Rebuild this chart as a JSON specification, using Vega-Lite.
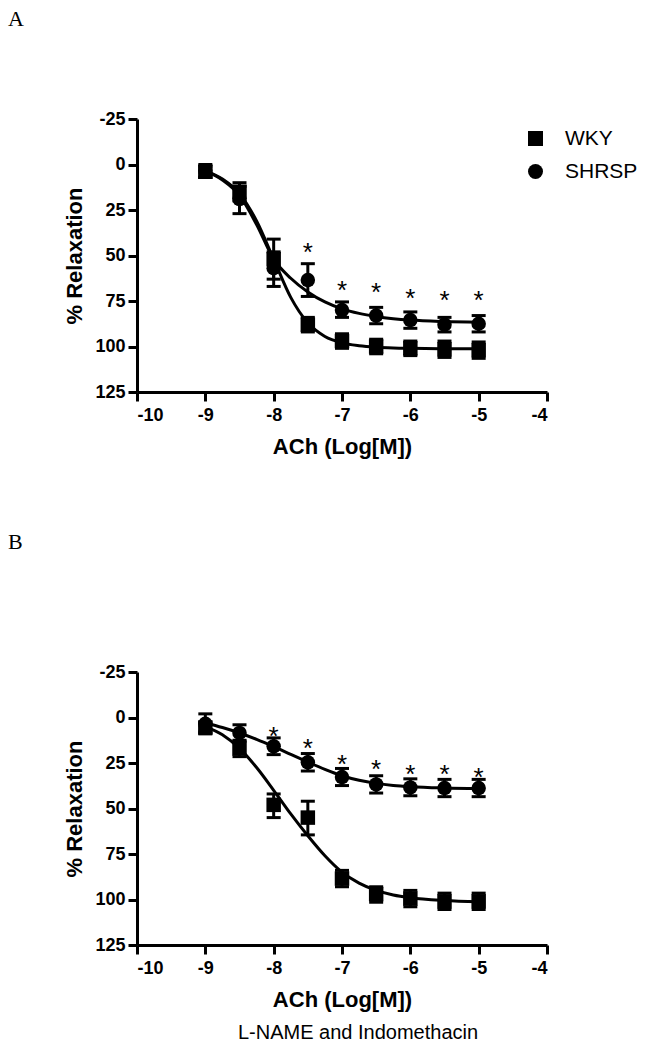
{
  "$schema": "https://vega.github.io/schema/vega-lite/v6.json",
  "background": "white",
  "padding": {"left": 8, "top": 8, "right": 5, "bottom": 3},
  "config": {
    "view": {"stroke": null},
    "font": "Liberation Sans",
    "axis": {
      "grid": false,
      "labelFontSize": 18,
      "labelFontWeight": "bold",
      "labelColor": "black",
      "labelFont": "Liberation Sans",
      "labelExpr": "'' + datum.value",
      "titleFontSize": 22,
      "titleFontWeight": "bold",
      "titleColor": "black",
      "titleFont": "Liberation Sans",
      "tickSize": 9,
      "tickWidth": 3,
      "tickColor": "black",
      "domainWidth": 3,
      "domainColor": "black",
      "labelPadding": 3
    },
    "axisX": {"labelPadding": 5, "titlePadding": 12},
    "legend": {
      "title": null,
      "orient": "none",
      "legendX": 388,
      "legendY": 9,
      "labelFontSize": 21,
      "labelFont": "Liberation Sans",
      "labelColor": "black",
      "symbolSize": 225,
      "labelOffset": 19,
      "rowPadding": 11,
      "padding": 0,
      "symbolFillColor": "black",
      "symbolStrokeColor": "black"
    }
  },
  "datasets": {
    "pts": [
      {"panel": "A", "group": "WKY", "x": -9, "y": 4, "lo": 1, "hi": 7},
      {"panel": "A", "group": "WKY", "x": -8.5, "y": 15, "lo": 10, "hi": 20},
      {"panel": "A", "group": "WKY", "x": -8, "y": 52, "lo": 41, "hi": 63},
      {"panel": "A", "group": "WKY", "x": -7.5, "y": 88, "lo": 84, "hi": 92},
      {"panel": "A", "group": "WKY", "x": -7, "y": 97, "lo": 93, "hi": 101},
      {"panel": "A", "group": "WKY", "x": -6.5, "y": 100, "lo": 96, "hi": 104},
      {"panel": "A", "group": "WKY", "x": -6, "y": 101, "lo": 97, "hi": 105},
      {"panel": "A", "group": "WKY", "x": -5.5, "y": 101.5, "lo": 97, "hi": 106},
      {"panel": "A", "group": "WKY", "x": -5, "y": 102, "lo": 97.5, "hi": 106.5},
      {"panel": "A", "group": "SHRSP", "x": -9, "y": 3.5, "lo": 0, "hi": 7},
      {"panel": "A", "group": "SHRSP", "x": -8.5, "y": 19, "lo": 12, "hi": 27},
      {"panel": "A", "group": "SHRSP", "x": -8, "y": 57, "lo": 48, "hi": 67},
      {"panel": "A", "group": "SHRSP", "x": -7.5, "y": 63.5, "lo": 54.5, "hi": 72.5},
      {"panel": "A", "group": "SHRSP", "x": -7, "y": 80, "lo": 75.5, "hi": 84},
      {"panel": "A", "group": "SHRSP", "x": -6.5, "y": 83, "lo": 78.5, "hi": 87.5},
      {"panel": "A", "group": "SHRSP", "x": -6, "y": 85.5, "lo": 81, "hi": 90},
      {"panel": "A", "group": "SHRSP", "x": -5.5, "y": 88, "lo": 84, "hi": 92},
      {"panel": "A", "group": "SHRSP", "x": -5, "y": 87.5, "lo": 83, "hi": 92},
      {"panel": "B", "group": "WKY", "x": -9, "y": 5.5, "lo": 3, "hi": 8},
      {"panel": "B", "group": "WKY", "x": -8.5, "y": 17, "lo": 12.5, "hi": 21.5},
      {"panel": "B", "group": "WKY", "x": -8, "y": 48, "lo": 42, "hi": 55},
      {"panel": "B", "group": "WKY", "x": -7.5, "y": 55, "lo": 46, "hi": 64.5},
      {"panel": "B", "group": "WKY", "x": -7, "y": 88.5, "lo": 84, "hi": 93},
      {"panel": "B", "group": "WKY", "x": -6.5, "y": 97, "lo": 93, "hi": 101.5},
      {"panel": "B", "group": "WKY", "x": -6, "y": 99.5, "lo": 95, "hi": 104},
      {"panel": "B", "group": "WKY", "x": -5.5, "y": 101, "lo": 96.5, "hi": 105.5},
      {"panel": "B", "group": "WKY", "x": -5, "y": 101, "lo": 96.5, "hi": 105.5},
      {"panel": "B", "group": "SHRSP", "x": -9, "y": 3.5, "lo": -2, "hi": 9},
      {"panel": "B", "group": "SHRSP", "x": -8.5, "y": 8.5, "lo": 4, "hi": 13},
      {"panel": "B", "group": "SHRSP", "x": -8, "y": 15.8, "lo": 11.2, "hi": 20.4},
      {"panel": "B", "group": "SHRSP", "x": -7.5, "y": 24.6, "lo": 19.8, "hi": 29.4},
      {"panel": "B", "group": "SHRSP", "x": -7, "y": 32.7, "lo": 28, "hi": 37.4},
      {"panel": "B", "group": "SHRSP", "x": -6.5, "y": 36.8, "lo": 32, "hi": 41.5},
      {"panel": "B", "group": "SHRSP", "x": -6, "y": 38.4, "lo": 33.7, "hi": 43},
      {"panel": "B", "group": "SHRSP", "x": -5.5, "y": 38.8, "lo": 34, "hi": 43.5},
      {"panel": "B", "group": "SHRSP", "x": -5, "y": 38.8, "lo": 34, "hi": 43.5}
    ],
    "curves": [
      {"panel": "A", "group": "WKY", "x": -9, "y": 3.5},
      {"panel": "A", "group": "WKY", "x": -8.75, "y": 8},
      {"panel": "A", "group": "WKY", "x": -8.5, "y": 16},
      {"panel": "A", "group": "WKY", "x": -8.25, "y": 31},
      {"panel": "A", "group": "WKY", "x": -8, "y": 52},
      {"panel": "A", "group": "WKY", "x": -7.75, "y": 73},
      {"panel": "A", "group": "WKY", "x": -7.5, "y": 87},
      {"panel": "A", "group": "WKY", "x": -7.25, "y": 94.5},
      {"panel": "A", "group": "WKY", "x": -7, "y": 98},
      {"panel": "A", "group": "WKY", "x": -6.75, "y": 99.6},
      {"panel": "A", "group": "WKY", "x": -6.5, "y": 100.4},
      {"panel": "A", "group": "WKY", "x": -6.25, "y": 100.8},
      {"panel": "A", "group": "WKY", "x": -6, "y": 101},
      {"panel": "A", "group": "WKY", "x": -5.5, "y": 101.2},
      {"panel": "A", "group": "WKY", "x": -5, "y": 101.3},
      {"panel": "A", "group": "SHRSP", "x": -9, "y": 3.5},
      {"panel": "A", "group": "SHRSP", "x": -8.75, "y": 8.5},
      {"panel": "A", "group": "SHRSP", "x": -8.5, "y": 17},
      {"panel": "A", "group": "SHRSP", "x": -8.25, "y": 33},
      {"panel": "A", "group": "SHRSP", "x": -8, "y": 52},
      {"panel": "A", "group": "SHRSP", "x": -7.75, "y": 62.5},
      {"panel": "A", "group": "SHRSP", "x": -7.5, "y": 70},
      {"panel": "A", "group": "SHRSP", "x": -7.25, "y": 75.5},
      {"panel": "A", "group": "SHRSP", "x": -7, "y": 79.3},
      {"panel": "A", "group": "SHRSP", "x": -6.75, "y": 81.8},
      {"panel": "A", "group": "SHRSP", "x": -6.5, "y": 83.5},
      {"panel": "A", "group": "SHRSP", "x": -6.25, "y": 84.7},
      {"panel": "A", "group": "SHRSP", "x": -6, "y": 85.5},
      {"panel": "A", "group": "SHRSP", "x": -5.5, "y": 86.3},
      {"panel": "A", "group": "SHRSP", "x": -5, "y": 86.7},
      {"panel": "B", "group": "WKY", "x": -9, "y": 5},
      {"panel": "B", "group": "WKY", "x": -8.75, "y": 9.5},
      {"panel": "B", "group": "WKY", "x": -8.5, "y": 17},
      {"panel": "B", "group": "WKY", "x": -8.25, "y": 27.5},
      {"panel": "B", "group": "WKY", "x": -8, "y": 40},
      {"panel": "B", "group": "WKY", "x": -7.75, "y": 53},
      {"panel": "B", "group": "WKY", "x": -7.5, "y": 65},
      {"panel": "B", "group": "WKY", "x": -7.25, "y": 76},
      {"panel": "B", "group": "WKY", "x": -7, "y": 85},
      {"panel": "B", "group": "WKY", "x": -6.75, "y": 91},
      {"panel": "B", "group": "WKY", "x": -6.5, "y": 95},
      {"panel": "B", "group": "WKY", "x": -6.25, "y": 97.5},
      {"panel": "B", "group": "WKY", "x": -6, "y": 99},
      {"panel": "B", "group": "WKY", "x": -5.5, "y": 100.5},
      {"panel": "B", "group": "WKY", "x": -5, "y": 101.2},
      {"panel": "B", "group": "SHRSP", "x": -9, "y": 3},
      {"panel": "B", "group": "SHRSP", "x": -8.75, "y": 5.5},
      {"panel": "B", "group": "SHRSP", "x": -8.5, "y": 8.5},
      {"panel": "B", "group": "SHRSP", "x": -8.25, "y": 12},
      {"panel": "B", "group": "SHRSP", "x": -8, "y": 16},
      {"panel": "B", "group": "SHRSP", "x": -7.75, "y": 20.3},
      {"panel": "B", "group": "SHRSP", "x": -7.5, "y": 24.5},
      {"panel": "B", "group": "SHRSP", "x": -7.25, "y": 28.5},
      {"panel": "B", "group": "SHRSP", "x": -7, "y": 32},
      {"panel": "B", "group": "SHRSP", "x": -6.75, "y": 34.5},
      {"panel": "B", "group": "SHRSP", "x": -6.5, "y": 36.2},
      {"panel": "B", "group": "SHRSP", "x": -6.25, "y": 37.3},
      {"panel": "B", "group": "SHRSP", "x": -6, "y": 38},
      {"panel": "B", "group": "SHRSP", "x": -5.5, "y": 38.7},
      {"panel": "B", "group": "SHRSP", "x": -5, "y": 39}
    ],
    "stars": [
      {"panel": "A", "x": -7.5, "y": 45},
      {"panel": "A", "x": -7, "y": 65.5},
      {"panel": "A", "x": -6.5, "y": 67},
      {"panel": "A", "x": -6, "y": 70},
      {"panel": "A", "x": -5.5, "y": 71},
      {"panel": "A", "x": -5, "y": 71},
      {"panel": "B", "x": -8, "y": 6.6},
      {"panel": "B", "x": -7.5, "y": 13.4},
      {"panel": "B", "x": -7, "y": 22},
      {"panel": "B", "x": -6.5, "y": 25},
      {"panel": "B", "x": -6, "y": 27.7},
      {"panel": "B", "x": -5.5, "y": 27.7},
      {"panel": "B", "x": -5, "y": 29.6}
    ]
  },
  "title": {
    "text": "L-NAME and Indomethacin",
    "orient": "bottom",
    "anchor": "middle",
    "font": "Liberation Sans",
    "fontSize": 20,
    "fontWeight": "normal",
    "color": "black",
    "offset": 13,
    "dx": 35
  },
  "spacing": 74,
  "vconcat": [
    {
      "width": 410,
      "height": 273,
      "title": {"text": "A", "anchor": "start", "frame": "group", "dx": -129, "offset": 79, "font": "Liberation Serif", "fontSize": 22, "fontWeight": "normal", "color": "black"},
      "encoding": {
        "x": {"field": "x", "type": "quantitative", "scale": {"domain": [-10, -4], "nice": false, "zero": false}, "axis": {"values": [-10, -9, -8, -7, -6, -5, -4], "title": "ACh (Log[M])"}},
        "y": {"field": "y", "type": "quantitative", "scale": {"domain": [-25, 125], "nice": false, "zero": false, "reverse": true}, "axis": {"values": [-25, 0, 25, 50, 75, 100, 125], "title": "% Relaxation", "titlePadding": 8}}
      },
      "layer": [
        {
          "data": {"name": "curves"},
          "transform": [{"filter": "datum.panel === 'A'"}],
          "mark": {"type": "line", "interpolate": "monotone", "strokeWidth": 3, "color": "black"},
          "encoding": {"detail": {"field": "group"}}
        },
        {
          "data": {"name": "pts"},
          "transform": [{"filter": "datum.panel === 'A'"}],
          "mark": {"type": "rule", "strokeWidth": 3, "color": "black", "opacity": 1},
          "encoding": {"y": {"field": "lo", "type": "quantitative"}, "y2": {"field": "hi"}}
        },
        {
          "data": {"name": "pts"},
          "transform": [{"filter": "datum.panel === 'A'"}],
          "mark": {"type": "tick", "orient": "horizontal", "size": 14, "thickness": 3, "color": "black", "opacity": 1},
          "encoding": {"y": {"field": "lo", "type": "quantitative"}}
        },
        {
          "data": {"name": "pts"},
          "transform": [{"filter": "datum.panel === 'A'"}],
          "mark": {"type": "tick", "orient": "horizontal", "size": 14, "thickness": 3, "color": "black", "opacity": 1},
          "encoding": {"y": {"field": "hi", "type": "quantitative"}}
        },
        {
          "data": {"name": "pts"},
          "transform": [{"filter": "datum.panel === 'A'"}],
          "mark": {"type": "point", "filled": true, "size": 210, "opacity": 1, "color": "black"},
          "encoding": {"shape": {"field": "group", "type": "nominal", "scale": {"domain": ["WKY", "SHRSP"], "range": ["square", "circle"]}}}
        },
        {
          "data": {"name": "stars"},
          "transform": [{"filter": "datum.panel === 'A'"}],
          "mark": {"type": "text", "text": "*", "fontSize": 26, "font": "Liberation Sans", "baseline": "alphabetic", "dy": 15, "color": "black"},
          "encoding": {}
        }
      ]
    },
    {
      "width": 410,
      "height": 273,
      "title": {"text": "B", "anchor": "start", "frame": "group", "dx": -129, "offset": 109, "font": "Liberation Serif", "fontSize": 22, "fontWeight": "normal", "color": "black"},
      "encoding": {
        "x": {"field": "x", "type": "quantitative", "scale": {"domain": [-10, -4], "nice": false, "zero": false}, "axis": {"values": [-10, -9, -8, -7, -6, -5, -4], "title": "ACh (Log[M])"}},
        "y": {"field": "y", "type": "quantitative", "scale": {"domain": [-25, 125], "nice": false, "zero": false, "reverse": true}, "axis": {"values": [-25, 0, 25, 50, 75, 100, 125], "title": "% Relaxation", "titlePadding": 8}}
      },
      "layer": [
        {
          "data": {"name": "curves"},
          "transform": [{"filter": "datum.panel === 'B'"}],
          "mark": {"type": "line", "interpolate": "monotone", "strokeWidth": 3, "color": "black"},
          "encoding": {"detail": {"field": "group"}}
        },
        {
          "data": {"name": "pts"},
          "transform": [{"filter": "datum.panel === 'B'"}],
          "mark": {"type": "rule", "strokeWidth": 3, "color": "black", "opacity": 1},
          "encoding": {"y": {"field": "lo", "type": "quantitative"}, "y2": {"field": "hi"}}
        },
        {
          "data": {"name": "pts"},
          "transform": [{"filter": "datum.panel === 'B'"}],
          "mark": {"type": "tick", "orient": "horizontal", "size": 14, "thickness": 3, "color": "black", "opacity": 1},
          "encoding": {"y": {"field": "lo", "type": "quantitative"}}
        },
        {
          "data": {"name": "pts"},
          "transform": [{"filter": "datum.panel === 'B'"}],
          "mark": {"type": "tick", "orient": "horizontal", "size": 14, "thickness": 3, "color": "black", "opacity": 1},
          "encoding": {"y": {"field": "hi", "type": "quantitative"}}
        },
        {
          "data": {"name": "pts"},
          "transform": [{"filter": "datum.panel === 'B'"}],
          "mark": {"type": "point", "filled": true, "size": 210, "opacity": 1, "color": "black"},
          "encoding": {"shape": {"field": "group", "type": "nominal", "scale": {"domain": ["WKY", "SHRSP"], "range": ["square", "circle"]}}}
        },
        {
          "data": {"name": "stars"},
          "transform": [{"filter": "datum.panel === 'B'"}],
          "mark": {"type": "text", "text": "*", "fontSize": 26, "font": "Liberation Sans", "baseline": "alphabetic", "dy": 15, "color": "black"},
          "encoding": {}
        }
      ]
    }
  ]
}
